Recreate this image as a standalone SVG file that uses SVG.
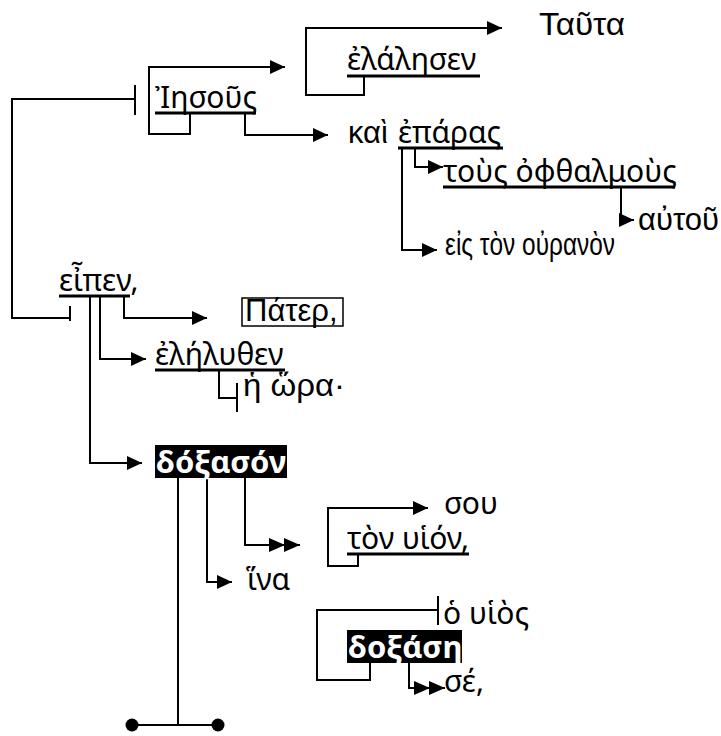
<svg xmlns="http://www.w3.org/2000/svg" width="721" height="736" viewBox="0 0 721 736">
<style>
.c{fill:none;stroke:#000;stroke-width:2}
.u{fill:none;stroke:#000;stroke-width:3}
.a{font-family:"Liberation Sans","Noto Sans",Arial,sans-serif;font-size:31px;fill:#000}
.n{font-family:"Noto Sans","Open Sans",sans-serif;font-size:30px;fill:#000}
.w{font-family:"Noto Sans","Open Sans",sans-serif;font-size:31px;font-weight:bold;fill:#fff}
</style>
<defs>
<marker id="ar" markerUnits="userSpaceOnUse" markerWidth="16" markerHeight="14" refX="15" refY="7" orient="auto"><path d="M0,0 L15,7 L0,14 z" fill="#000"/></marker>
<marker id="ar2" markerUnits="userSpaceOnUse" markerWidth="32" markerHeight="14" refX="31" refY="7" orient="auto"><path d="M0,0 L16,7 L0,14 z M15,0 L31,7 L15,14 z" fill="#000"/></marker>
</defs>
<g id="connectors">
<path class="c" d="M135,99 H12 V318 H70"/>
<path class="c" d="M135,85 V115 M70,306 V321"/>
<path class="c" d="M190,113 V134 H149 V67 H285" marker-end="url(#ar)"/>
<path class="c" d="M245,113 V135 H328" marker-end="url(#ar)"/>
<path class="c" d="M364,76 V95 H306 V28 H502" marker-end="url(#ar)"/>
<path class="c" d="M415,148 V167 H443" marker-end="url(#ar)"/>
<path class="c" d="M402,148 V250 H437" marker-end="url(#ar)"/>
<path class="c" d="M621,187 V220 H634" marker-end="url(#ar)"/>
<path class="c" d="M124,296 V318 H207" marker-end="url(#ar)"/>
<path class="c" d="M100,296 V359 H146" marker-end="url(#ar)"/>
<path class="c" d="M90,296 V463 H142" marker-end="url(#ar)"/>
<path class="c" d="M219,370 V398 H237 M237,383 V412"/>
<path class="c" d="M178,478 V725 M132,725 H218"/>
<circle cx="132" cy="725" r="6.5" fill="#000"/>
<circle cx="218" cy="725" r="6.5" fill="#000"/>
<path class="c" d="M207,478 V582 H232" marker-end="url(#ar)"/>
<path class="c" d="M245,478 V545 H300" marker-end="url(#ar2)"/>
<path class="c" d="M358,554 V566 H328 V508 H428" marker-end="url(#ar)"/>
<path class="c" d="M438,610 H317 V680 H370 V663 M438,596 V625"/>
<path class="c" d="M409,663 V688 H445" marker-end="url(#ar2)"/>
</g>
<g id="n-tauta"><text class="a" x="539" y="35" textLength="86" lengthAdjust="spacingAndGlyphs">Ταῦτα</text></g>
<g id="n-elalesen"><text class="n" x="347" y="70">ἐλάλησεν</text><path class="u" d="M347,76 H480"/></g>
<g id="n-iesous"><text class="n" x="155" y="108">Ἰησοῦς</text><path class="u" d="M155,113 H256"/></g>
<g id="n-eparas"><text class="a" x="348" y="143">καὶ</text><text class="n" x="398" y="143">ἐπάρας</text><path class="u" d="M398,148 H503"/></g>
<g id="n-ophthalmous"><text class="n" x="443" y="182">τοὺς ὀφθαλμοὺς</text><path class="u" d="M443,187 H675"/></g>
<g id="n-autou"><text class="a" x="638" y="230">αὐτοῦ</text></g>
<g id="n-ouranon"><text class="a" x="445" y="255" textLength="170" lengthAdjust="spacingAndGlyphs">εἰς τὸν οὐρανὸν</text></g>
<g id="n-eipen"><text class="n" x="59" y="291">εἶπεν,</text><path class="u" d="M59,296 H130"/></g>
<g id="n-pater"><rect x="242" y="298" width="101" height="28" fill="none" stroke="#000" stroke-width="1.5"/><text class="a" x="245" y="321">Πάτερ,</text></g>
<g id="n-elelythen"><text class="n" x="155" y="365">ἐλήλυθεν</text><path class="u" d="M155,370 H285"/></g>
<g id="n-hora"><text class="a" x="243" y="396" textLength="102" lengthAdjust="spacingAndGlyphs">ἡ ὥρα·</text></g>
<g id="n-doxason"><rect x="155" y="445" width="132" height="33" fill="#000"/><text class="w" x="156" y="473">δόξασόν</text></g>
<g id="n-hina"><text class="n" x="247" y="590">ἵνα</text></g>
<g id="n-sou"><text class="n" x="444" y="514">σου</text></g>
<g id="n-huion"><text class="n" x="347" y="549">τὸν υἱόν,</text><path class="u" d="M347,554 H469"/></g>
<g id="n-huios"><text class="n" x="443" y="624">ὁ υἱὸς</text></g>
<g id="n-doxase"><rect x="347" y="630" width="115" height="33" fill="#000"/><text class="w" x="348" y="658">δοξάση</text></g>
<g id="n-se"><text class="n" x="444" y="692">σέ,</text></g>
</svg>
